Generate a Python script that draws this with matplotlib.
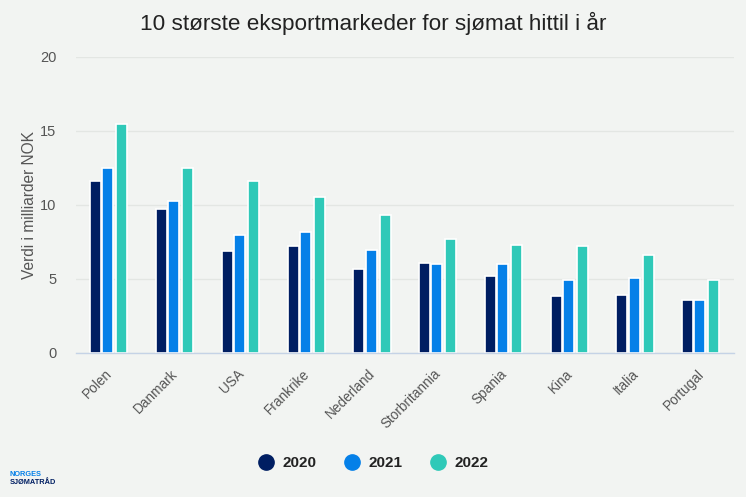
import matplotlib
matplotlib.use('Agg')
import matplotlib.pyplot as plt
from matplotlib.lines import Line2D
from matplotlib.transforms import ScaledTranslation

plt.rcParams['font.family'] = ['Liberation Sans', 'DejaVu Sans']

# data
markets = ['Polen', 'Danmark', 'USA', 'Frankrike', 'Nederland',
           'Storbritannia', 'Spania', 'Kina', 'Italia', 'Portugal']
years = ['2020', '2021', '2022']
values_2020 = [11.6, 9.7, 6.9, 7.2, 5.7, 6.1, 5.2, 3.85, 3.9, 3.6]
values_2021 = [12.5, 10.3, 8.0, 8.2, 6.95, 6.0, 6.0, 4.9, 5.1, 3.6]
values_2022 = [15.5, 12.5, 11.65, 10.55, 9.3, 7.7, 7.3, 7.2, 6.6, 4.9]
colors = ['#001e62', '#0580e8', '#2fc9b8']

W, H = 746, 497
BG = '#f2f4f2'
BAND = 65.78

fig = plt.figure(figsize=(W / 100, H / 100), dpi=100, facecolor=BG)
ax = fig.add_axes([76 / W, 1 - 353 / H, 658 / W, 296 / H], facecolor=BG)

# bars
series = [values_2020, values_2021, values_2022]
offsets = [-12.3 / BAND, 0, 14 / BAND]
for i, vals in enumerate(series):
    xs = [k + offsets[i] for k in range(len(markets))]
    ax.bar(xs, vals, width=11 / BAND, color=colors[i], edgecolor='white',
           linewidth=1.2, zorder=3)

# axes
ax.set_xlim(-0.486, -0.486 + 658 / BAND)
ax.set_ylim(0, 20)
ax.set_yticks([0, 5, 10, 15, 20])
ax.grid(axis='y', color='#e3e6e3', linewidth=1, zorder=0)
ax.set_axisbelow(True)
for s in ['top', 'right', 'left']:
    ax.spines[s].set_visible(False)
ax.spines['bottom'].set_color('#c5d3e6')
ax.spines['bottom'].set_linewidth(1)
ax.spines['bottom'].set_zorder(4)
ax.tick_params(axis='y', length=0, pad=14, labelsize=10.5, labelcolor='#555555')
ax.tick_params(axis='x', length=0, pad=10)
ax.set_xticks(range(len(markets)))
ax.set_xticklabels(markets, rotation=45, ha='right', rotation_mode='anchor',
                   fontsize=9.8, color='#555555')
ax.set_ylabel('Verdi i milliarder NOK', fontsize=11.2, color='#555555')
ax.yaxis.set_label_coords(-39 / 658, 0.5)

# small nudges of the tick labels
nudge_x = ScaledTranslation(-3 / 100, 0, fig.dpi_scale_trans)
for lab in ax.get_xticklabels():
    lab.set_transform(lab.get_transform() + nudge_x)
nudge_y = ScaledTranslation(0, 1 / 100, fig.dpi_scale_trans)
for lab in ax.get_yticklabels():
    lab.set_transform(lab.get_transform() + nudge_y)

fig.text(373.5 / W, 1 - 23 / H, '10 største eksportmarkeder for sjømat hittil i år',
         ha='center', va='center', fontsize=16.2, color='#222222')

# legend
handles = [Line2D([], [], marker='o', linestyle='none', markersize=11,
                  color=c) for c in colors]
fig.legend(handles, years, loc='center', bbox_to_anchor=(369.5 / W, 1 - 463 / H),
           ncol=3, frameon=False, prop={'size': 11, 'weight': 'bold'},
           labelcolor='#222222', columnspacing=1.3, handletextpad=0.1)

# logo as text
fig.text(10 / W, 1 - 475 / H, 'NORGES', fontsize=5.3, fontweight='bold',
         color='#0580e8', va='center')
fig.text(10 / W, 1 - 482.5 / H, 'SJØMATRÅD', fontsize=5.3, fontweight='bold',
         color='#001e62', va='center')

fig.savefig('out.png', dpi=100, facecolor=BG)
